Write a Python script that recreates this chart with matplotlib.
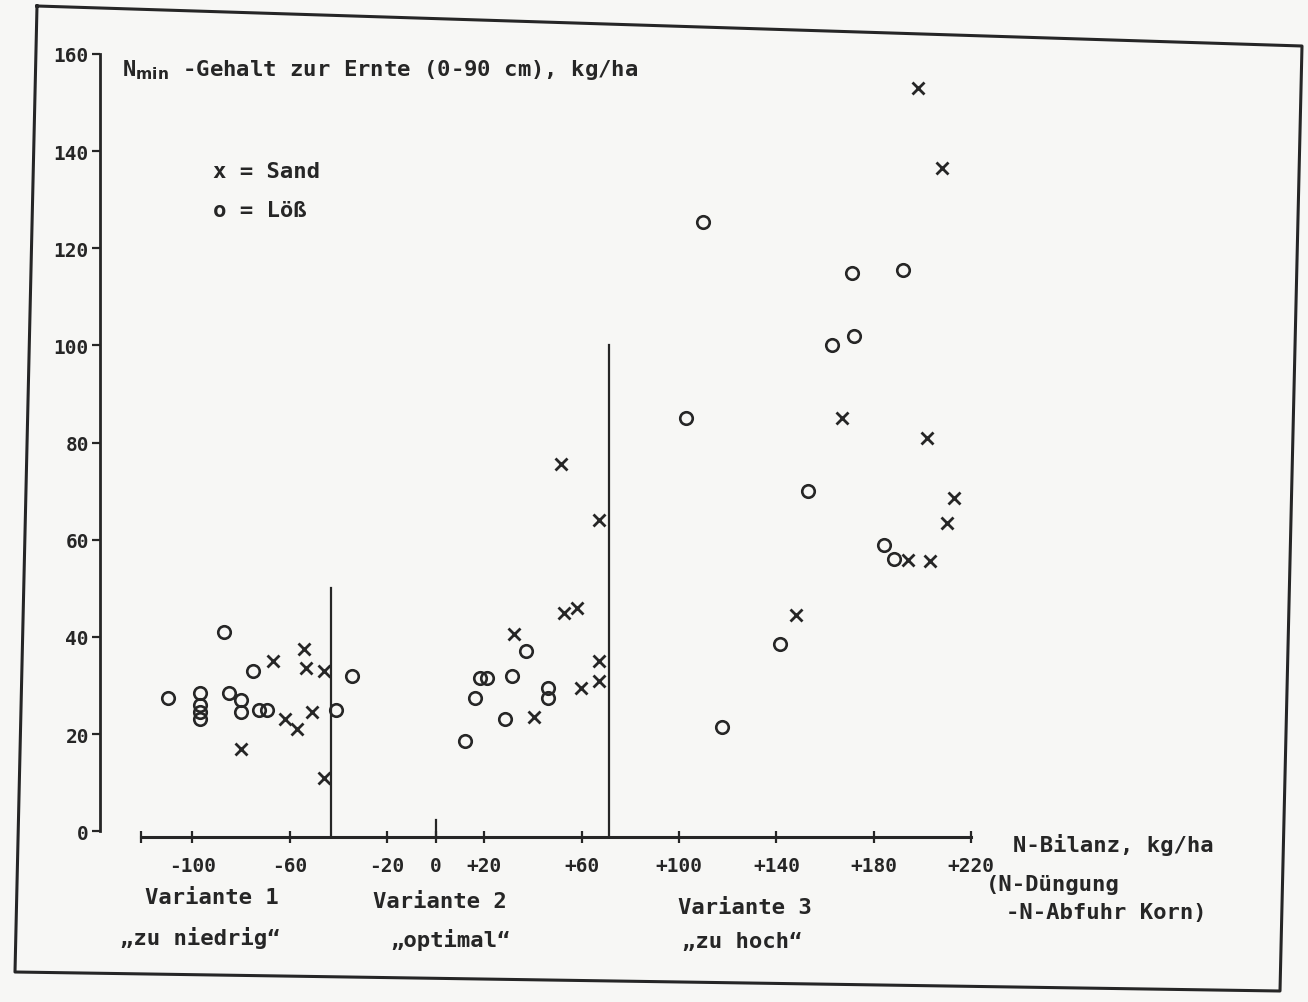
import matplotlib.pyplot as plt
from matplotlib.lines import Line2D

# Sand (x) -- N-Bilanz, Nmin
sand_x = [-67, -54, -53.5, -46, -62, -57, -51, -80, -46,
          51.5, 67, 52.5, 58, 32, 59.5, 67, 67, 40.5,
          198, 208, 167, 202, 213, 210, 194, 203, 148]
sand_y = [35, 37.5, 33.5, 33, 23, 21, 24.5, 17, 11,
          75.5, 64, 45, 46, 40.5, 29.5, 35, 31, 23.5,
          153, 136.5, 85, 81, 68.5, 63.5, 55.8, 55.6, 44.5]

# Löß (o)
loess_x = [-87, -75, -34.5, -110, -97, -97, -97, -97, -85, -80, -80, -72.5, -69.5, -41,
           37, 18, 21, 31.5, 16, 46, 46, 28.5, 12,
           110, 171, 192, 163, 172, 103, 153, 184, 188.5, 141.5, 117.5]
loess_y = [41, 33, 32, 27.5, 28.5, 26, 24.5, 23, 28.5, 27, 24.5, 25, 25, 25,
           37, 31.5, 31.5, 32, 27.5, 29.5, 27.5, 23, 18.5,
           125.5, 115, 115.5, 100, 102, 85, 70, 59, 56, 38.5, 21.5]

# Grenzen der Varianten
grenze_x = [-43, 71]
grenze_top = [50, 100]

xticks = [-100, -60, -20, 0, 20, 60, 100, 140, 180, 220]
xtick_labels = ['-100', '-60', '-20', '0', '+20', '+60', '+100', '+140', '+180', '+220']
yticks = [0, 20, 40, 60, 80, 100, 120, 140, 160]

ink = '#262626'
W, H = 1308, 1003


def fx(px):
    return px / W


def fy(py):
    return 1 - py / H


fig = plt.figure(figsize=(13.08, 10.03), dpi=100)
fig.patch.set_facecolor('#f7f7f5')

ax = fig.add_axes([fx(100), fy(838), 876 / W, 783 / H])
ax.set_facecolor('none')
ax.set_xlim(-138, 222)
ax.set_ylim(-1.2, 160)

ax.plot(sand_x, sand_y, linestyle='none', marker='x', ms=8, mew=2.0, color=ink, clip_on=False)
ax.plot(loess_x, loess_y, linestyle='none', marker='o', ms=9, mew=1.9,
        mfc='none', mec=ink, clip_on=False)

for gx, gt in zip(grenze_x, grenze_top):
    ax.plot([gx, gx], [-1.2, gt], color=ink, lw=1.6)
# Nullstrich
ax.plot([0, 0], [-1.2, 2.2], color=ink, lw=1.6)

for s in ['top', 'right']:
    ax.spines[s].set_visible(False)
ax.spines['left'].set_bounds(0, 160)
ax.spines['bottom'].set_bounds(-121, 220)
ax.spines['left'].set_linewidth(2)
ax.spines['bottom'].set_linewidth(2.2)
ax.spines['left'].set_color(ink)
ax.spines['bottom'].set_color(ink)

ax.set_xticks(xticks)
ax.set_xticklabels(xtick_labels, family='DejaVu Sans Mono', fontsize=14,
                   fontweight='bold', color=ink)
ax.set_xticks([-121], minor=True)
ax.set_yticks(yticks)
ax.set_yticklabels([str(v) for v in yticks], family='DejaVu Sans Mono', fontsize=14,
                   fontweight='bold', color=ink)
ax.tick_params(axis='x', which='both', direction='inout', length=8, width=1.6, pad=10, colors=ink)
ax.tick_params(axis='y', direction='out', length=6, width=1.6, pad=2, colors=ink)

tf = dict(family='DejaVu Sans Mono', fontsize=16, fontweight='bold', color=ink)
fig.text(fx(122), fy(70), r'N$_{\mathbf{min}}$ -Gehalt zur Ernte (0-90 cm), kg/ha',
         ha='left', va='center', **tf)
fig.text(fx(213), fy(172), 'x = Sand', ha='left', va='center', **tf)
fig.text(fx(213), fy(211), 'o = Löß', ha='left', va='center', **tf)
fig.text(fx(1013), fy(845), 'N-Bilanz, kg/ha', ha='left', va='center', **tf)
fig.text(fx(986), fy(885), '(N-Düngung', ha='left', va='center', **tf)
fig.text(fx(1006), fy(913), '-N-Abfuhr Korn)', ha='left', va='center', **tf)
fig.text(fx(212), fy(898), 'Variante 1', ha='center', va='center', **tf)
fig.text(fx(200), fy(938), '„zu niedrig“', ha='center', va='center', **tf)
fig.text(fx(440), fy(902), 'Variante 2', ha='center', va='center', **tf)
fig.text(fx(450), fy(940), '„optimal“', ha='center', va='center', **tf)
fig.text(fx(745), fy(908), 'Variante 3', ha='center', va='center', **tf)
fig.text(fx(742), fy(942), '„zu hoch“', ha='center', va='center', **tf)

# Rahmen (Scan leicht gedreht)
corners = [(37, 7), (1302, 47), (1280, 992), (15, 973), (37, 7)]
fig.add_artist(Line2D([fx(c[0]) for c in corners], [fy(c[1]) for c in corners],
                      color=ink, lw=2.2, transform=fig.transFigure))

fig.savefig('out.png', dpi=100, facecolor=fig.get_facecolor())
